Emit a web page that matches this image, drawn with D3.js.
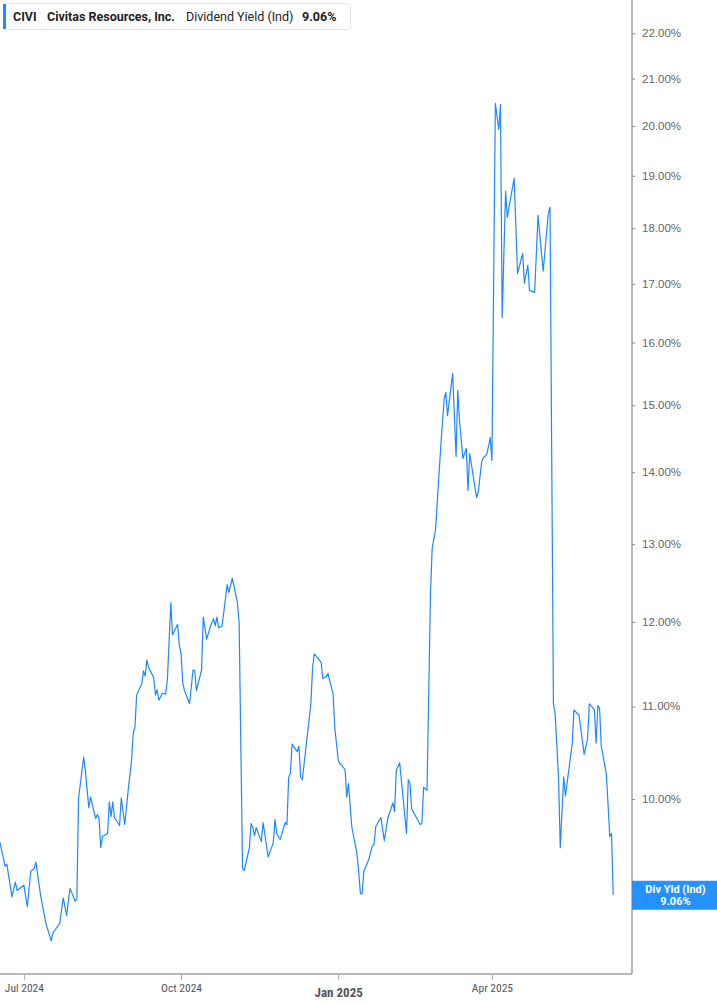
<!DOCTYPE html>
<html><head><meta charset="utf-8">
<script src="https://cdn.jsdelivr.net/npm/d3@7/dist/d3.min.js"></script>
<style>
html,body{margin:0;padding:0;background:#fff;}
svg{display:block;font-family:Roboto, "Liberation Sans", sans-serif;}
</style></head>
<body><div id="chart"></div>
<script>
const dates = ["2024-06-17","2024-06-20","2024-06-21","2024-06-24","2024-06-26","2024-06-27","2024-07-01","2024-07-03","2024-07-05","2024-07-07","2024-07-08","2024-07-11","2024-07-14","2024-07-17","2024-07-18","2024-07-22","2024-07-24","2024-07-26","2024-07-28","2024-07-31","2024-08-01","2024-08-02","2024-08-05","2024-08-06","2024-08-08","2024-08-09","2024-08-12","2024-08-13","2024-08-14","2024-08-15","2024-08-16","2024-08-19","2024-08-20","2024-08-21","2024-08-22","2024-08-23","2024-08-26","2024-08-27","2024-08-29","2024-08-31","2024-09-02","2024-09-03","2024-09-04","2024-09-05","2024-09-08","2024-09-09","2024-09-10","2024-09-11","2024-09-12","2024-09-15","2024-09-16","2024-09-17","2024-09-18","2024-09-20","2024-09-22","2024-09-23","2024-09-25","2024-09-26","2024-09-29","2024-09-30","2024-10-01","2024-10-02","2024-10-03","2024-10-06","2024-10-08","2024-10-09","2024-10-10","2024-10-13","2024-10-14","2024-10-16","2024-10-18","2024-10-20","2024-10-21","2024-10-22","2024-10-23","2024-10-25","2024-10-28","2024-10-29","2024-10-31","2024-11-03","2024-11-04","2024-11-06","2024-11-07","2024-11-10","2024-11-11","2024-11-12","2024-11-13","2024-11-14","2024-11-17","2024-11-18","2024-11-21","2024-11-24","2024-11-25","2024-11-26","2024-11-28","2024-12-01","2024-12-02","2024-12-03","2024-12-04","2024-12-05","2024-12-08","2024-12-09","2024-12-10","2024-12-11","2024-12-14","2024-12-16","2024-12-17","2024-12-18","2024-12-20","2024-12-22","2024-12-23","2024-12-25","2024-12-26","2024-12-29","2024-12-30","2025-01-01","2025-01-02","2025-01-05","2025-01-06","2025-01-07","2025-01-09","2025-01-12","2025-01-13","2025-01-14","2025-01-15","2025-01-16","2025-01-19","2025-01-21","2025-01-22","2025-01-23","2025-01-26","2025-01-28","2025-01-30","2025-02-02","2025-02-03","2025-02-04","2025-02-06","2025-02-07","2025-02-10","2025-02-11","2025-02-12","2025-02-13","2025-02-18","2025-02-19","2025-02-20","2025-02-22","2025-02-24","2025-02-25","2025-02-27","2025-03-02","2025-03-04","2025-03-05","2025-03-06","2025-03-09","2025-03-11","2025-03-12","2025-03-13","2025-03-15","2025-03-17","2025-03-18","2025-03-19","2025-03-23","2025-03-24","2025-03-26","2025-03-27","2025-03-29","2025-03-31","2025-04-01","2025-04-03","2025-04-05","2025-04-06","2025-04-07","2025-04-09","2025-04-10","2025-04-12","2025-04-14","2025-04-16","2025-04-19","2025-04-20","2025-04-22","2025-04-23","2025-04-26","2025-04-28","2025-05-01","2025-05-04","2025-05-05","2025-05-07","2025-05-08","2025-05-10","2025-05-11","2025-05-13","2025-05-14","2025-05-18","2025-05-19","2025-05-22","2025-05-25","2025-05-27","2025-05-28","2025-05-31","2025-06-01","2025-06-02","2025-06-03","2025-06-04","2025-06-07","2025-06-09","2025-06-10","2025-06-11"];
const yields = [9.56,9.33,9.35,9.04,9.18,9.10,9.15,8.95,9.28,9.31,9.37,9.03,8.79,8.64,8.71,8.80,9.03,8.87,9.12,9.00,9.02,10.01,10.44,10.29,9.91,10.02,9.80,9.84,9.80,9.51,9.62,9.65,9.97,9.82,9.97,9.81,9.73,10.01,9.74,10.08,10.40,10.70,10.77,11.13,11.26,11.41,11.35,11.54,11.45,11.33,11.13,11.19,11.07,11.15,11.14,11.31,12.24,11.84,11.97,11.71,11.62,11.27,11.18,11.03,11.42,11.41,11.18,11.42,12.06,11.79,11.93,12.04,11.95,12.06,11.93,11.95,12.47,12.37,12.55,12.24,11.99,9.31,9.29,9.51,9.75,9.71,9.63,9.71,9.57,9.76,9.42,9.56,9.79,9.65,9.59,9.76,9.74,10.22,10.27,10.58,10.50,10.56,10.23,10.20,10.69,11.03,11.45,11.61,11.56,11.51,11.32,11.34,11.38,11.14,10.76,10.41,10.37,10.31,10.02,10.16,9.71,9.45,9.28,9.07,9.07,9.28,9.40,9.53,9.54,9.72,9.81,9.58,9.80,9.96,9.87,10.30,10.38,10.19,9.65,10.20,10.16,9.90,9.74,9.75,10.12,10.09,12.33,12.94,13.20,14.36,15.09,15.20,14.84,15.50,14.23,15.23,14.77,14.20,14.35,13.74,14.27,13.64,13.72,14.15,14.21,14.26,14.51,14.17,20.47,19.93,20.45,16.42,18.70,18.20,18.58,18.95,17.18,17.54,17.01,17.33,16.88,16.85,18.24,17.22,18.28,18.39,11.03,10.92,10.22,9.51,10.23,10.03,10.58,10.96,10.90,10.47,10.64,11.03,10.96,10.59,11.01,10.98,10.56,10.26,9.62,9.65,9.06];
const yTicks = [9,10,11,12,13,14,15,16,17,18,19,20,21,22];
const xTicks = ["2024-07-01","2024-10-01","2025-01-01","2025-04-01"];
const xTickLabels = ["Jul 2024","Oct 2024","Jan 2025","Apr 2025"];
const ticker = "CIVI", company = "Civitas Resources, Inc.", metric = "Dividend Yield (Ind)", lastLabel = "Div Yld (Ind)";

const W = 717, H = 1005;
const plotR = 632, plotB = 974;
const parse = d3.timeParse("%Y-%m-%d");
const data = dates.map((d,i)=>({date:parse(d), v:yields[i]}));
const last = data[data.length-1];

const svg = d3.select("#chart").append("svg").attr("width",W).attr("height",H);

const x = d3.scaleTime().domain([parse("2024-06-17"), parse("2025-06-22")]).range([0, plotR]);
const y = d3.scaleLog().domain([8.35, 22.77]).range([plotB, 0]);

// line
svg.append("path").datum(data)
  .attr("fill","none").attr("stroke","#1e88ff").attr("stroke-width",1.2)
  .attr("stroke-linejoin","round")
  .attr("d", d3.line().x(d=>x(d.date)).y(d=>y(d.v)));

// right axis
const yAxis = d3.axisRight(y).tickValues(yTicks).tickSize(3).tickPadding(7)
  .tickFormat(d=>d3.format(".2f")(d)+"%");
const gy = svg.append("g").attr("transform",`translate(${plotR},0)`).call(yAxis);
gy.select(".domain").attr("stroke","#a0a0a0").attr("stroke-width",1.5).attr("d",`M0,0V${plotB}`);
gy.selectAll(".tick line").attr("stroke","#888");
gy.selectAll(".tick text").attr("fill","#666").attr("font-size",11.5).attr("dy","0.3em");

// bottom axis
const xAxis = d3.axisBottom(x).tickValues(xTicks.map(parse)).tickSize(6).tickPadding(4)
  .tickFormat((d,i)=>xTickLabels[i]);
const gx = svg.append("g").attr("transform",`translate(0,${plotB})`).call(xAxis);
gx.select(".domain").attr("stroke","#a0a0a0").attr("stroke-width",1.5).attr("d",`M0,0H${plotR}`);
gx.selectAll(".tick line").attr("stroke","#aaa");
gx.selectAll(".tick text").attr("fill","#555").attr("font-size",11.5)
  .attr("font-family","'Roboto Condensed', 'Liberation Sans Narrow', Roboto, sans-serif");
gx.selectAll(".tick text").filter((d,i)=>i===2).attr("font-weight","bold").attr("font-size",13).attr("dy","1.0em");

// last value label
const ly = y(last.v);
svg.append("rect").attr("x",plotR).attr("y",ly-14).attr("width",W-plotR).attr("height",29).attr("fill","#1a8cff").attr("fill-opacity",0.95);
svg.append("text").attr("x",(plotR+W)/2+1).attr("y",ly-2).attr("text-anchor","middle")
  .attr("fill","#fff").attr("font-size",11).attr("font-weight","bold").text(lastLabel);
svg.append("text").attr("x",(plotR+W)/2+1).attr("y",ly+10).attr("text-anchor","middle")
  .attr("fill","#fff").attr("font-size",11).attr("font-weight","bold").text(d3.format(".2f")(last.v)+"%");

// legend
const lg = svg.append("g");
lg.append("rect").attr("x",3.5).attr("y",3.5).attr("width",347).attr("height",26).attr("rx",3)
  .attr("fill","#fff").attr("stroke","#e4e4e4");
lg.append("rect").attr("x",3).attr("y",4).attr("width",3).attr("height",25).attr("fill","#1a8cff");
const lt = lg.append("text").attr("y",21).attr("font-size",12.5).attr("fill","#222");
lt.append("tspan").attr("x",13).attr("font-weight","bold").text(ticker);
lt.append("tspan").attr("x",47).attr("font-weight","bold").text(company);
lt.append("tspan").attr("x",186).text(metric);
lt.append("tspan").attr("x",302).attr("font-weight","bold").text(d3.format(".2f")(last.v)+"%");
</script>
</body></html>
